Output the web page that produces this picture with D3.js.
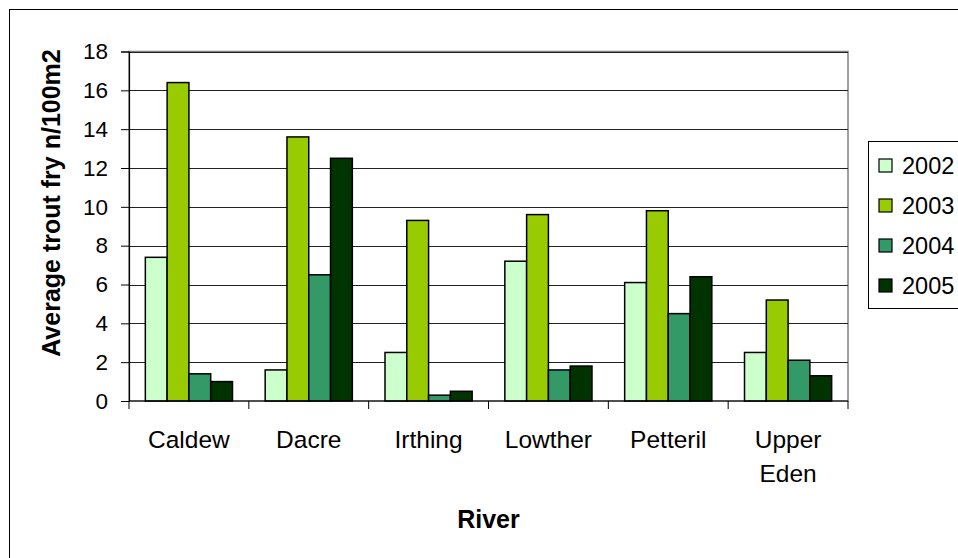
<!DOCTYPE html>
<html>
<head>
<meta charset="utf-8">
<script src="https://cdn.jsdelivr.net/npm/d3@7"></script>
<style>
  html, body { margin: 0; padding: 0; background: #fff; }
  svg { display: block; font-family: Arial, "Liberation Sans", sans-serif; }
</style>
</head>
<body>
<svg id="chart" width="958" height="558"></svg>
<script>
const rivers = ["Caldew", "Dacre", "Irthing", "Lowther", "Petteril", "Upper Eden"];
const years = ["2002", "2003", "2004", "2005"];
const v2002 = [7.4, 1.6, 2.5, 7.2, 6.1, 2.5];
const v2003 = [16.4, 13.6, 9.3, 9.6, 9.8, 5.2];
const v2004 = [1.4, 6.5, 0.3, 1.6, 4.5, 2.1];
const v2005 = [1.0, 12.5, 0.5, 1.8, 6.4, 1.3];
const yTicks = [0, 2, 4, 6, 8, 10, 12, 14, 16, 18];
const colors = ["#CCFFCC", "#99CC00", "#339966", "#003300"];
const yTitle = "Average trout fry n/100m2";
const xTitle = "River";

const seriesValues = [v2002, v2003, v2004, v2005];
const FONT = "Arial, 'Liberation Sans', sans-serif";

const svg = d3.select("#chart");

// chart area border
svg.append("rect").attr("x", 9.5).attr("y", 9.5).attr("width", 1000).attr("height", 1000)
  .attr("fill", "#fff").attr("stroke", "#000").attr("stroke-width", 1);

const L = 129, R = 848, T = 51.5, B = 401;

const x0 = d3.scaleBand().domain(rivers).range([L, R]).paddingInner(0).paddingOuter(0);
const gap = 1.5; // gap width 150%
const bw = x0.bandwidth() / (years.length + gap);
const x1 = d3.scaleBand().domain(years).range([bw * gap / 2, bw * gap / 2 + bw * years.length]);
const y = d3.scaleLinear().domain([0, 18]).range([B, T]);

// plot area frame
svg.append("rect").attr("x", L).attr("y", T).attr("width", R - L).attr("height", B - T)
  .attr("fill", "#fff").attr("stroke", "#808080").attr("stroke-width", 1.5);

// gridlines
svg.append("g").selectAll("line").data(yTicks.filter(d => d > 0)).join("line")
  .attr("x1", L).attr("x2", R)
  .attr("y1", d => Math.round(y(d)) + 0.5).attr("y2", d => Math.round(y(d)) + 0.5)
  .attr("stroke", "#222").attr("stroke-width", 1);

// bars
const groups = svg.append("g").selectAll("g").data(rivers).join("g")
  .attr("transform", d => `translate(${x0(d)},0)`);
groups.selectAll("rect").data((r, i) => years.map((yr, k) => ({ yr, k, v: seriesValues[k][i] }))).join("rect")
  .attr("x", d => x1(d.yr))
  .attr("width", x1.bandwidth())
  .attr("y", d => y(d.v))
  .attr("height", d => B - y(d.v))
  .attr("fill", d => colors[d.k])
  .attr("stroke", "#000").attr("stroke-width", 1.5);

// y axis
const yAxis = d3.axisLeft(y).tickValues(yTicks).tickSize(8).tickPadding(13).tickFormat(d3.format("d"));
const gy = svg.append("g").attr("transform", `translate(${L},0)`).call(yAxis);
gy.select(".domain").attr("stroke", "#000").attr("stroke-width", 1.2);
gy.selectAll(".tick line").attr("stroke", "#000");
gy.selectAll(".tick text").attr("font-size", 22.5).attr("fill", "#000").attr("font-family", FONT);

// x axis
const gx = svg.append("g").attr("transform", `translate(0,${B})`);
gx.append("line").attr("x1", L).attr("x2", R).attr("y1", 0).attr("y2", 0).attr("stroke", "#000").attr("stroke-width", 1.2);
gx.selectAll("line.tk").data(rivers.map(r => x0(r)).concat([R])).join("line").attr("class", "tk")
  .attr("x1", d => d).attr("x2", d => d).attr("y1", 0).attr("y2", 8).attr("stroke", "#000");
const xl = gx.selectAll("text.lab").data(rivers).join("text").attr("class", "lab")
  .attr("x", d => x0(d) + x0.bandwidth() / 2)
  .attr("y", 47)
  .attr("text-anchor", "middle").attr("font-size", 24.5).attr("fill", "#000");
xl.each(function(d) {
  const parts = d.split(" ");
  const t = d3.select(this);
  parts.forEach((p, i) => t.append("tspan").attr("x", x0(d) + x0.bandwidth() / 2).attr("dy", i === 0 ? 0 : 34).text(p));
});

// axis titles
svg.append("text").attr("x", (L + R) / 2).attr("y", 528).attr("text-anchor", "middle")
  .attr("font-size", 25).attr("font-weight", "bold").text(xTitle);
svg.append("text").attr("transform", `translate(60,${203}) rotate(-90)`).attr("text-anchor", "middle")
  .attr("font-size", 25).attr("font-weight", "bold").text(yTitle);

// legend
const lg = svg.append("g");
lg.append("rect").attr("x", 868.5).attr("y", 141.5).attr("width", 200).attr("height", 167)
  .attr("fill", "#fff").attr("stroke", "#000").attr("stroke-width", 1);
const ly = [165, 205, 245, 285];
years.forEach((yr, k) => {
  lg.append("rect").attr("x", 879).attr("y", ly[k] - 6).attr("width", 13).attr("height", 13)
    .attr("fill", colors[k]).attr("stroke", "#000").attr("stroke-width", 1.2);
  lg.append("text").attr("x", 902).attr("y", ly[k] + 8.5).attr("font-size", 23.5).text(yr);
});
</script>
</body>
</html>
